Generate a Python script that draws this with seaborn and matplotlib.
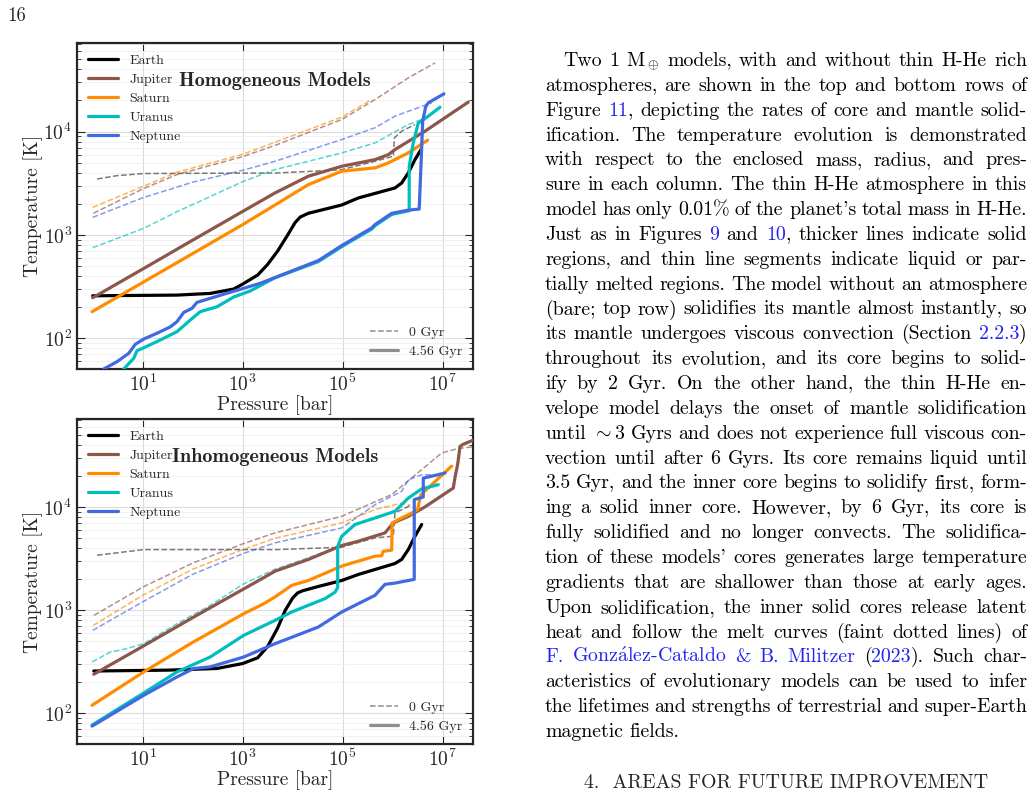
import re
import numpy as np
import matplotlib
matplotlib.use("Agg")
import matplotlib.pyplot as plt
from matplotlib.lines import Line2D
from matplotlib.transforms import IdentityTransform
from matplotlib.ticker import (FixedLocator, LogLocator, LogFormatterSciNotation,
                               NullFormatter, NullLocator)
import seaborn as sns

# ---------------- data (pressure in bar, temperature in K) ----------------
planets = ["Earth", "Jupiter", "Saturn", "Uranus", "Neptune"]
colors = ["black", "#8c564b", "darkorange", "#00bebe", "royalblue"]

# Homogeneous models, 4.56 Gyr
hom_earth_p = [1.0, 48.5, 224, 661, 1000, 2000, 3160, 5010, 7940, 11200, 14100, 20500, 95500, 205000, 1.11e6, 1.51e6, 2.05e6, 2.79e6, 3.68e6]
hom_earth_t = [258, 262, 272, 300, 335, 410, 520, 700, 1000, 1320, 1490, 1620, 1950, 2280, 2850, 3180, 3980, 5360, 6700]
hom_jup_p = [1.0, 10, 100, 1000, 4430, 20500, 95500, 443000, 817000, 1.11e6, 4.43e6, 3.25e7]
hom_jup_t = [247, 468, 891, 1690, 2550, 3700, 4620, 5360, 5980, 6700, 10100, 19300]
hom_sat_p = [0.97, 10, 100, 1000, 4430, 20500, 95500, 443000, 817000, 2.05e6, 5.0e6]
hom_sat_t = [181, 347, 661, 1260, 1950, 3070, 4140, 4460, 4980, 6220, 8260]
hom_ura_p = [3.5, 4.17, 6.61, 7.69, 10.5, 26.3, 48.5, 89, 141, 306, 661, 1410, 4430, 32500, 95500, 380000, 443000, 955000, 2.05e6, 2.14e6, 2.14e6, 2.58e6, 3.25e6, 5.15e6, 8.83e6]
hom_ura_t = [45, 50.5, 64, 76, 81, 100, 116, 150, 181, 202, 251, 287, 386, 552, 771, 1140, 1230, 1580, 1710, 1710, 4620, 7760, 12100, 14100, 17200]
hom_nep_p = [1.41, 1.66, 3.06, 5.25, 7.11, 10.5, 19.3, 35.6, 48.5, 66.1, 96.8, 122, 225, 485, 1050, 2250, 4850, 32500, 95500, 380000, 443000, 955000, 2.05e6, 3.39e6, 3.63e6, 3.98e6, 4.57e6, 5.15e6, 1.06e7]
hom_nep_t = [46, 50.5, 59.4, 71.6, 87.5, 98.4, 112, 129, 145, 178, 195, 223, 244, 273, 305, 341, 394, 565, 789, 1170, 1260, 1620, 1740, 1780, 3980, 12600, 17400, 19000, 23200]

# Homogeneous models, 0 Gyr
hom_earth0_p = [1.22, 3.06, 10.5, 4850, 44300, 95500, 443000, 1.03e6, 1.08e6, 1.51e6, 2.79e6]
hom_earth0_t = [3480, 3750, 3930, 3980, 4190, 4290, 5160, 5780, 8690, 10100, 11700]
hom_jup0_p = [1.03, 10, 48.5, 1000, 4850, 95500, 443000, 2.05e6, 7.01e6]
hom_jup0_t = [1620, 2790, 3840, 5730, 7480, 13100, 20400, 33100, 46200]
hom_sat0_p = [1.0, 10, 48.5, 1000, 4430, 95500, 380000]
hom_sat0_t = [1850, 2940, 4050, 6030, 7890, 13800, 20400]
hom_ura0_p = [1.0, 10.5, 48.5, 1000, 4430, 95500, 443000, 2.05e6, 3.8e6]
hom_ura0_t = [753, 1160, 1680, 3280, 4290, 6220, 7780, 11700, 13100]
hom_nep0_p = [1.0, 10, 100, 1000, 4430, 95500, 443000, 1.11e6, 6.03e6]
hom_nep0_t = [1480, 2290, 3240, 4220, 5160, 8380, 10900, 14100, 19000]

# Inhomogeneous models, 4.56 Gyr
inh_earth_p = [1.05, 31.6, 306, 1000, 2000, 3160, 5010, 7080, 10000, 12600, 15800, 31600, 95500, 205000, 1.11e6, 1.51e6, 2.05e6, 2.79e6, 3.8e6]
inh_earth_t = [258, 263, 273, 305, 347, 447, 676, 1000, 1320, 1480, 1550, 1700, 1950, 2230, 2850, 3120, 3890, 5240, 6810]
inh_jup_p = [1.05, 10, 100, 2090, 4430, 20500, 95500, 205000, 702000, 1.03e6, 2.05e6, 4.43e6, 1.63e7, 1.78e7, 2.0e7, 2.22e7, 2.51e7, 4.23e7]
inh_jup_t = [240, 447, 851, 1950, 2400, 3120, 4260, 4690, 5650, 7060, 8180, 10100, 15400, 20000, 26300, 38900, 40700, 45200]
inh_sat_p = [0.97, 10.5, 100, 1050, 2630, 4430, 9550, 20500, 95500, 443000, 603000, 646000, 955000, 977000, 1.51e6, 2.59e6, 3.16e6, 3.63e6, 1.51e7]
inh_sat_t = [120, 253, 490, 929, 1160, 1350, 1750, 1950, 2690, 3360, 3390, 3750, 3840, 7060, 7890, 8950, 9550, 13200, 25100]
inh_ura_p = [0.97, 10.5, 48.5, 224, 1050, 4430, 9550, 20500, 44300, 70100, 79400, 79400, 95500, 176000, 443000, 1.11e6, 2.05e6, 3.8e6, 8.18e6]
inh_ura_t = [77, 158, 253, 353, 573, 800, 964, 1120, 1300, 1500, 1660, 4190, 5240, 6810, 7890, 9140, 12300, 15100, 16600]
inh_nep_p = [0.97, 10.5, 48.5, 105, 224, 1050, 4430, 32500, 95500, 443000, 702000, 1.11e6, 2.7e6, 2.7e6, 4.09e6, 4.09e6, 1.11e7]
inh_nep_t = [75.3, 150, 226, 273, 283, 353, 475, 689, 964, 1400, 1790, 1840, 2000, 11900, 12600, 19200, 21500]

# Inhomogeneous models, 0 Gyr
inh_earth0_p = [1.22, 10.5, 4850, 95500, 443000, 1.03e6, 1.11e6, 2.4e6]
inh_earth0_t = [3430, 3890, 3890, 4100, 5060, 5250, 8810, 10600]
inh_jup0_p = [1.06, 10, 100, 1000, 4430, 95500, 955000, 9.55e6, 2.0e7, 4.43e7]
inh_jup0_t = [895, 1680, 2880, 4420, 5650, 8180, 13300, 33700, 37200, 38900]
inh_sat0_p = [1.03, 10, 100, 1000, 4430, 95500, 443000, 1.51e6, 2.24e6]
inh_sat0_t = [716, 1400, 2510, 3890, 5010, 7060, 9510, 11000, 10500]
inh_ura0_p = [0.97, 2.25, 4.85, 10.5, 48.5, 224, 1050, 4430, 20500, 95500]
inh_ura0_t = [316, 394, 426, 475, 743, 1120, 1810, 2510, 3240, 4270]
inh_nep0_p = [1.0, 10, 100, 1000, 4430, 95500, 443000, 1.51e6, 2.05e6, 3.8e6, 9.55e6]
inh_nep0_t = [640, 1210, 2240, 3550, 4520, 6310, 10600, 14300, 18500, 20700, 20700]

panels = [
    ("Homogeneous Models",
     [(hom_earth_p, hom_earth_t), (hom_jup_p, hom_jup_t), (hom_sat_p, hom_sat_t),
      (hom_ura_p, hom_ura_t), (hom_nep_p, hom_nep_t)],
     [(hom_earth0_p, hom_earth0_t), (hom_jup0_p, hom_jup0_t), (hom_sat0_p, hom_sat0_t),
      (hom_ura0_p, hom_ura0_t), (hom_nep0_p, hom_nep0_t)]),
    ("Inhomogeneous Models",
     [(inh_earth_p, inh_earth_t), (inh_jup_p, inh_jup_t), (inh_sat_p, inh_sat_t),
      (inh_ura_p, inh_ura_t), (inh_nep_p, inh_nep_t)],
     [(inh_earth0_p, inh_earth0_t), (inh_jup0_p, inh_jup0_t), (inh_sat0_p, inh_sat0_t),
      (inh_ura0_p, inh_ura0_t), (inh_nep0_p, inh_nep0_t)]),
]

# ---------------- page text ----------------
body_lines = [
    r"Two 1 $\mathrm{M}_\oplus$ models, with and without thin H-He rich",
    "atmospheres, are shown in the top and bottom rows of",
    "Figure [[11]], depicting the rates of core and mantle solid-",
    "ification.  The temperature evolution is demonstrated",
    "with respect to the enclosed mass, radius, and pres-",
    "sure in each column. The thin H-He atmosphere in this",
    "model has only 0.01% of the planet's total mass in H-He.",
    "Just as in Figures [[9]] and [[10]], thicker lines indicate solid",
    "regions, and thin line segments indicate liquid or par-",
    "tially melted regions. The model without an atmosphere",
    "(bare; top row) solidifies its mantle almost instantly, so",
    "its mantle undergoes viscous convection (Section [[2.2.3]])",
    "throughout its evolution, and its core begins to solid-",
    "ify by 2 Gyr.  On the other hand, the thin H-He en-",
    "velope model delays the onset of mantle solidification",
    r"until $\sim$3 Gyrs and does not experience full viscous con-",
    "vection until after 6 Gyrs. Its core remains liquid until",
    "3.5 Gyr, and the inner core begins to solidify first, form-",
    "ing a solid inner core.  However, by 6 Gyr, its core is",
    "fully solidified and no longer convects.  The solidifica-",
    "tion of these models' cores generates large temperature",
    "gradients that are shallower than those at early ages.",
    "Upon solidification, the inner solid cores release latent",
    "heat and follow the melt curves (faint dotted lines) of",
    r"[[F.]] [[Gonz$\acute{\mathrm{a}}$lez-Cataldo]] [[&]] [[B.]] [[Militzer]] ([[2023]]). Such char-",
    "acteristics of evolutionary models can be used to infer",
    "the lifetimes and strengths of terrestrial and super-Earth",
    "magnetic fields.",
]
section_title = "4.  AREAS FOR FUTURE IMPROVEMENT"

# ---------------- style ----------------
sns.set_style("ticks")
plt.rcParams["font.family"] = "cmr10"
plt.rcParams["mathtext.fontset"] = "cm"
plt.rcParams["axes.unicode_minus"] = False
plt.rcParams["axes.formatter.use_mathtext"] = True

W, H = 1035, 810
fig = plt.figure(figsize=(W / 100, H / 100), dpi=100)

ax_top = fig.add_axes([77 / W, 1 - 369 / H, 396 / W, 326 / H])
ax_bot = fig.add_axes([77 / W, 1 - 744 / H, 396 / W, 325 / H])

for ax, (title, solids, dashed) in zip([ax_top, ax_bot], panels):
    ax.set_xscale("log")
    ax.set_yscale("log")
    for i, (p, t) in enumerate(dashed):
        c = "#333333" if i == 0 else colors[i]
        sns.lineplot(x=p, y=t, ax=ax, color=c, lw=1.1, linestyle="--", alpha=0.65,
                     estimator=None, sort=False, zorder=2)
    for i, (p, t) in enumerate(solids):
        sns.lineplot(x=p, y=t, ax=ax, color=colors[i], lw=2.3,
                     estimator=None, sort=False, zorder=3)

    ax.set_xlim(0.485, 4.04e7)
    ax.set_ylim(50.5, 72000)
    ax.xaxis.set_major_locator(FixedLocator([1e1, 1e3, 1e5, 1e7]))
    ax.xaxis.set_major_formatter(LogFormatterSciNotation())
    ax.xaxis.set_minor_locator(NullLocator())
    ax.yaxis.set_major_locator(LogLocator(base=10))
    ax.yaxis.set_minor_locator(LogLocator(base=10, subs=np.arange(2, 10)))
    ax.yaxis.set_minor_formatter(NullFormatter())
    ax.set_axisbelow(True)
    ax.grid(which="major", color="#dcdcdc", lw=0.8)
    ax.grid(which="minor", axis="y", color="#efefef", lw=0.6)
    ax.tick_params(which="both", direction="in", right=True, top=True, labelsize=14)
    ax.tick_params(which="major", length=6, width=0.8)
    ax.tick_params(which="minor", length=3, width=0.6)
    for s in ax.spines.values():
        s.set_linewidth(1.6)
    ax.set_xlabel("Pressure [bar]", fontsize=14, labelpad=0)
    ax.set_ylabel("Temperature [K]", fontsize=14, labelpad=0)

    handles = [Line2D([], [], color=c, lw=2.3) for c in colors]
    leg = ax.legend(handles, planets, loc="upper left", frameon=False, fontsize=10,
                    handlelength=2.15, handletextpad=0.8, labelspacing=0.45,
                    borderaxespad=0.4)
    ax.add_artist(leg)
    age_handles = [Line2D([], [], color="0.45", lw=1.1, linestyle="--", alpha=0.8),
                   Line2D([], [], color="0.45", lw=2.3, alpha=0.8)]
    ax.legend(age_handles, ["0 Gyr", "4.56 Gyr"], loc="lower right", frameon=False,
              fontsize=10, handlelength=2.0, handletextpad=0.8, labelspacing=0.45,
              borderaxespad=0.4)
    ax.text(0.5, 0.884, title, transform=ax.transAxes, ha="center", va="center",
            fontsize=14.5, family="cmb10")

# page number
fig.text(7, H - 21, "16", transform=IdentityTransform(), fontsize=13.5, va="baseline")

# justified body text
LINK = "#2222ee"
BODY = 14.3
renderer = fig.canvas.get_renderer()


def word_parts(word):
    out = []
    for piece in re.split(r"(\[\[.*?\]\])", word):
        if piece.startswith("[["):
            out.append((piece[2:-2], LINK))
        elif piece:
            out.append((piece, "black"))
    return out


def put_line(line, baseline, x0, x1, justify):
    words = []
    for w in line.split():
        items = []
        for s, c in word_parts(w):
            t = fig.text(0, 0, s, color=c, fontsize=BODY, va="baseline", ha="left",
                         transform=IdentityTransform())
            items.append((t, t.get_window_extent(renderer).width))
        words.append(items)
    widths = [sum(wd for _, wd in items) for items in words]
    if justify and len(words) > 1:
        gap = (x1 - x0 - sum(widths)) / (len(words) - 1)
    else:
        gap = BODY * 100 / 72 * 0.333
    x = x0
    for items, wd in zip(words, widths):
        xx = x
        for t, w in items:
            t.set_position((xx, H - baseline))
            xx += w
        x += wd + gap


for i, line in enumerate(body_lines):
    base = 66 + 24.85 * i
    x0 = 563 if i == 0 else 545
    put_line(line, base, x0, 1027, justify=(i < len(body_lines) - 1))

fig.text(786, H - 788, section_title, transform=IdentityTransform(), fontsize=BODY,
         ha="center", va="baseline")

fig.savefig("out.png", dpi=100)
